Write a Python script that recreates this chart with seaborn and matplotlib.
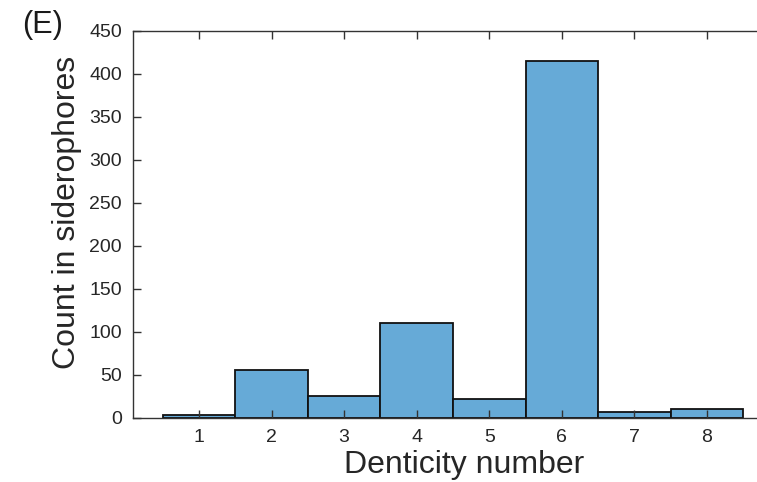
import numpy as np
import pandas as pd
import matplotlib
matplotlib.use("Agg")
import matplotlib.pyplot as plt
import seaborn as sb

# counts
denticity = [1, 2, 3, 4, 5, 6, 7, 8]
counts = [3, 56, 25, 110, 22, 415, 7, 10]
yticks = [0, 50, 100, 150, 200, 250, 300, 350, 400, 450]

df = pd.DataFrame({"denticity": denticity, "count": counts})

sb.set_style("ticks")
plt.rcParams["font.family"] = ["Liberation Sans", "DejaVu Sans"]

fig = plt.figure(figsize=(7.57, 4.82), dpi=100)
# the original figure is cropped on the right, so the axes run past the edge
ax = fig.add_axes([0.1757, 0.1328, 0.854, 0.803])

sb.histplot(data=df, x="denticity", weights="count", discrete=True,
            color="#66AAD7", alpha=1, edgecolor="#111111", linewidth=1.3, ax=ax)

ax.set_xlim(0.09, 9.0)
ax.set_ylim(0, 450)
ax.set_xticks(denticity)
ax.set_yticks(yticks)
ax.set_axisbelow(False)
ax.tick_params(direction="in", length=5.5, width=1.0, color="#333333",
               labelcolor="#262626", labelsize=14, top=True, right=True, pad=8)
for s in ax.spines.values():
    s.set_visible(True)
    s.set_color("#333333")
    s.set_linewidth(1.0)

ax.set_xlabel("Denticity number", fontsize=23, labelpad=3, color="#262626")
ax.set_ylabel("Count in siderophores", fontsize=23, labelpad=5, color="#262626")
ax.xaxis.label.set_x(0.512)
ax.yaxis.label.set_y(0.53)
fig.text(0.029, 0.948, "(E)", fontsize=22, va="center", ha="left", color="#1a1a1a")

plt.savefig("out.png", dpi=100)
